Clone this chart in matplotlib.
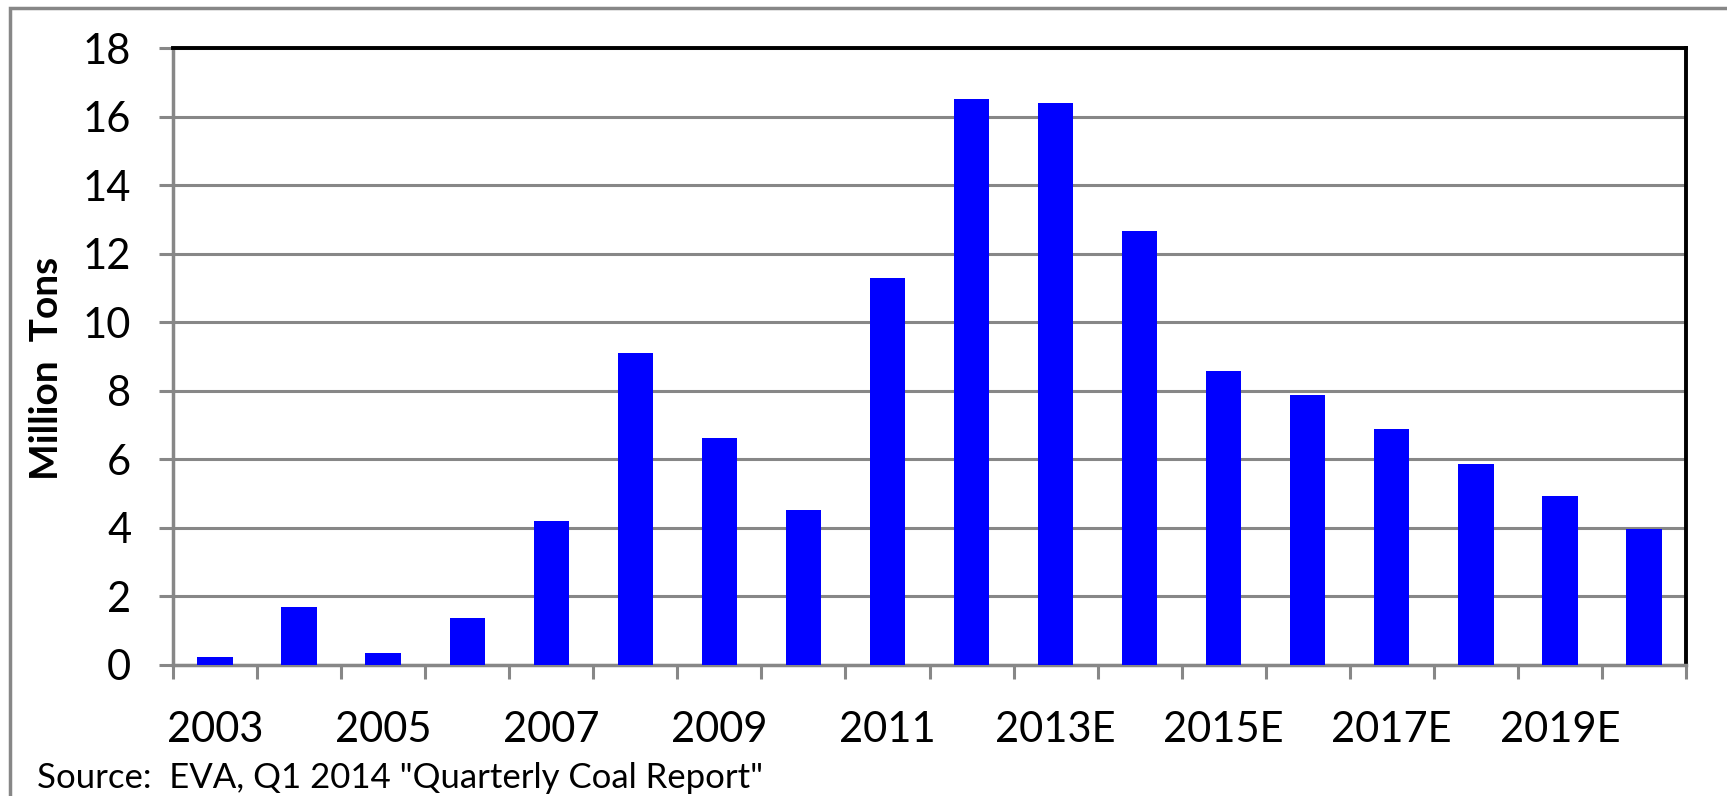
import matplotlib.pyplot as plt
from matplotlib.patches import Rectangle

years = ["2003", "2004", "2005", "2006", "2007", "2008", "2009", "2010", "2011",
         "2012", "2013E", "2014E", "2015E", "2016E", "2017E", "2018E", "2019E", "2020E"]
tons = [0.22, 1.70, 0.35, 1.38, 4.21, 9.10, 6.62, 4.53, 11.29,
        16.50, 16.40, 12.67, 8.59, 7.88, 6.89, 5.86, 4.92, 3.98]
shown_labels = ["2003", "2005", "2007", "2009", "2011", "2013E", "2015E", "2017E", "2019E"]
y_ticks = [0, 2, 4, 6, 8, 10, 12, 14, 16, 18]

plt.rcParams['font.family'] = ['Lato', 'DejaVu Sans']
grey = '#878787'

fig = plt.figure(figsize=(17.27, 7.96), dpi=100)
ax = fig.add_axes([173 / 1727, 1 - 665 / 796, (1686 - 173) / 1727, (665 - 48) / 796])

# outer frame of the chart area
fig.patches.append(Rectangle((10 / 1727, -0.05), 1.05, 0.99 + 0.05, transform=fig.transFigure,
                             fill=False, edgecolor=grey, linewidth=2.5, zorder=0))

centers = [i + 0.5 for i in range(len(years))]
ax.bar(centers, tons, width=0.42, color='#0000ff', zorder=3)

ax.set_xlim(0, len(years))
ax.set_ylim(0, 18)
ax.set_yticks(y_ticks)
ax.set_yticklabels([str(t) for t in y_ticks], fontsize=30)
ax.grid(axis='y', color=grey, linewidth=2.2, zorder=0)

ax.set_xticks(range(len(years) + 1))
ax.set_xticklabels([])
ax.set_xticks([c for c, y in zip(centers, years) if y in shown_labels], minor=True)
ax.set_xticklabels(shown_labels, minor=True, fontsize=30)
ax.tick_params(axis='x', which='major', length=10, width=2.2, color=grey, direction='out')
ax.tick_params(axis='x', which='minor', length=0, pad=33)
ax.tick_params(axis='y', length=10, width=2.2, color=grey, pad=20)

for side in ['left', 'bottom']:
    ax.spines[side].set_color(grey)
    ax.spines[side].set_linewidth(2.5)
for side in ['top', 'right']:
    ax.spines[side].set_color('black')
    ax.spines[side].set_linewidth(2.8)

fig.text(47 / 1727, 1 - 368 / 796, "Million  Tons", rotation=90, ha='center', va='center',
         fontsize=28, fontweight='bold')
fig.text(37 / 1727, 1 - 778 / 796, 'Source:  EVA, Q1 2014 "Quarterly Coal Report"',
         ha='left', va='center', fontsize=25)

fig.savefig("out.png", dpi=100)
